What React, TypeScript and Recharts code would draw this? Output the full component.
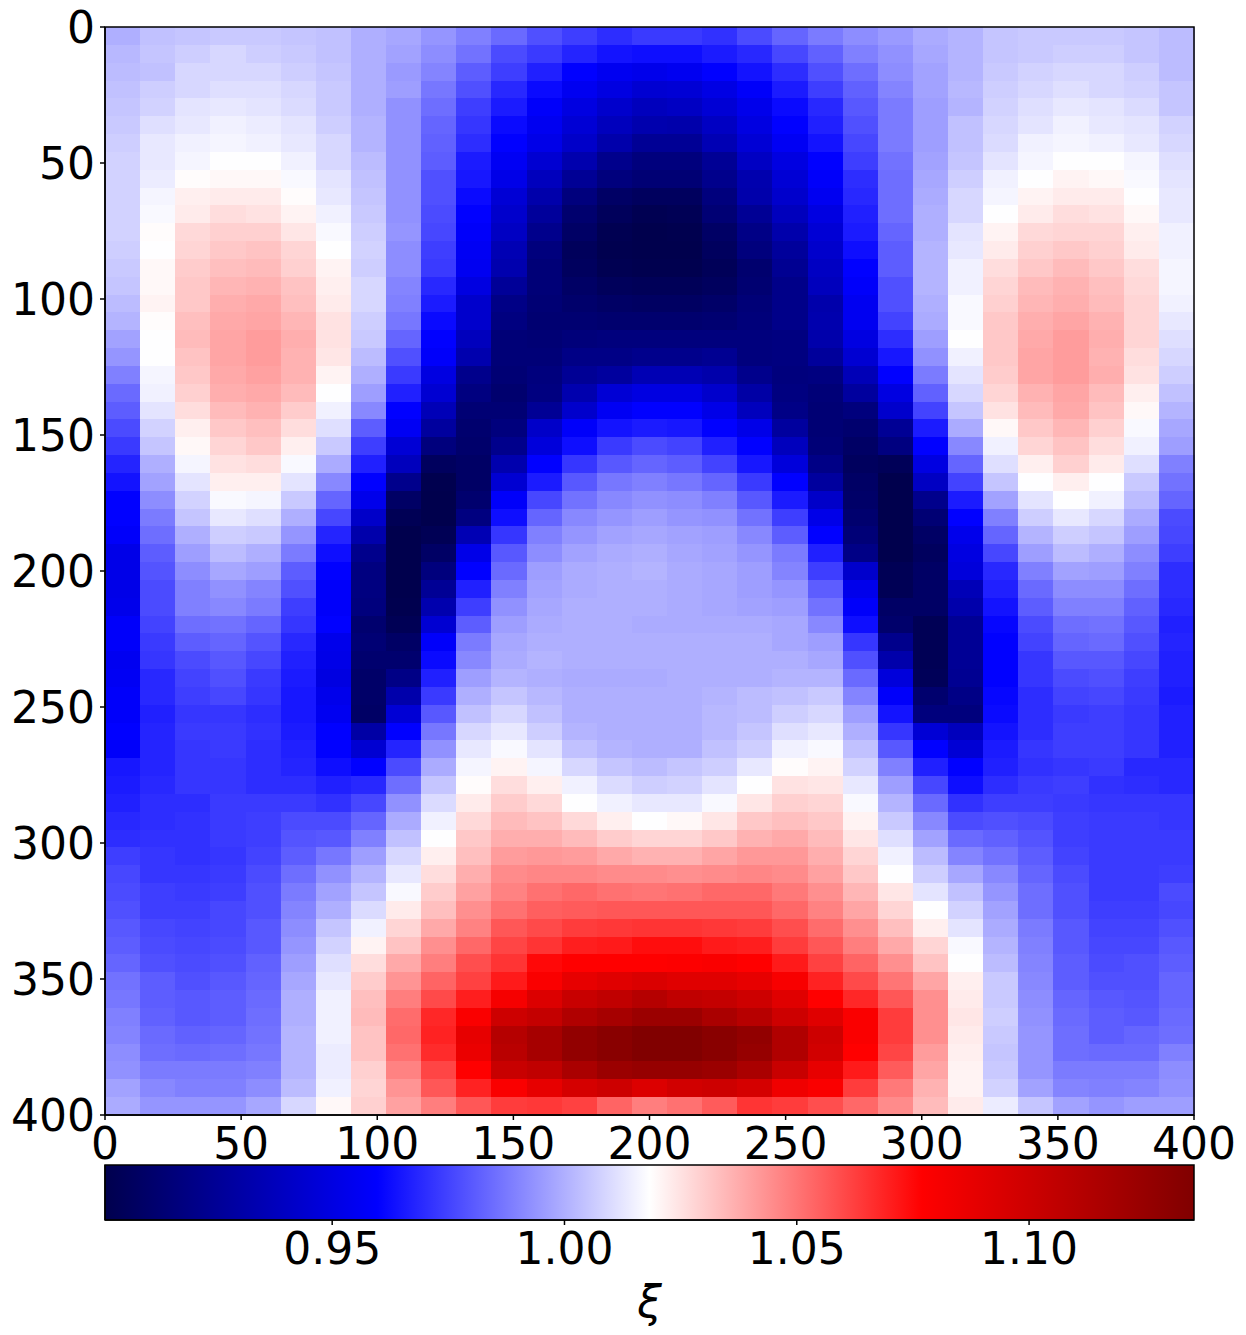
import React from 'react';
import { ScatterChart, Scatter, XAxis, YAxis, ReferenceArea, Label } from 'recharts';

// xi values in thousandths, one row per y step, top to bottom; 31 columns
const XI_MILLI: number[][] = [
[1000,1004,1005,1006,1006,1005,1004,1000,998,994,989,984,978,974,970,973,973,971,977,983,988,992,995,999,1001,1005,1006,1006,1006,1005,1003],
[1002,1005,1007,1009,1007,1006,1004,1000,997,992,986,977,973,968,964,963,963,966,969,976,982,989,993,998,1001,1005,1006,1007,1007,1005,1003],
[1003,1004,1009,1009,1009,1007,1005,1000,995,990,981,974,967,960,955,953,955,960,964,970,978,985,992,997,1001,1006,1008,1009,1009,1007,1003],
[1004,1007,1009,1011,1011,1009,1006,1000,996,987,978,969,962,955,950,945,946,951,958,966,974,982,990,997,1002,1007,1009,1011,1009,1008,1005],
[1005,1008,1012,1013,1012,1010,1006,1000,993,985,974,966,958,950,943,938,940,946,953,962,969,980,988,996,1001,1008,1011,1013,1012,1010,1005],
[1006,1011,1013,1015,1014,1012,1007,1001,993,983,972,962,955,946,938,933,932,940,950,960,967,978,988,996,1004,1009,1012,1015,1013,1012,1008],
[1007,1013,1015,1016,1015,1013,1009,1001,993,982,970,960,952,942,932,925,925,935,946,956,964,976,988,996,1004,1010,1015,1016,1015,1013,1009],
[1008,1013,1016,1018,1018,1015,1009,1003,993,981,966,956,945,933,922,917,917,925,940,950,960,974,986,997,1005,1012,1016,1018,1018,1016,1011],
[1008,1014,1019,1020,1020,1017,1012,1004,993,978,965,952,938,925,917,914,914,922,933,946,958,970,985,998,1007,1015,1018,1021,1020,1017,1012],
[1008,1016,1022,1023,1023,1019,1013,1005,993,978,962,946,932,917,909,907,907,917,932,943,955,969,985,999,1009,1016,1021,1023,1023,1018,1013],
[1008,1017,1023,1026,1025,1021,1015,1006,993,977,960,943,927,912,906,903,904,914,925,938,950,967,985,1000,1009,1018,1023,1026,1025,1020,1013],
[1008,1019,1027,1029,1029,1024,1017,1007,994,976,958,940,922,909,903,901,902,909,920,932,946,966,983,1000,1012,1021,1027,1028,1028,1022,1015],
[1007,1018,1028,1031,1032,1028,1018,1008,992,974,956,935,917,906,902,901,901,907,917,927,943,963,981,1001,1013,1023,1029,1031,1029,1023,1015],
[1006,1020,1030,1033,1034,1029,1021,1007,992,973,955,933,915,907,903,902,902,905,912,924,940,960,981,1001,1015,1026,1031,1034,1031,1026,1016],
[1005,1020,1031,1035,1036,1032,1022,1009,990,969,950,926,915,909,906,905,905,907,913,921,938,958,978,1001,1015,1028,1034,1036,1033,1027,1016],
[1003,1021,1031,1037,1038,1033,1023,1009,989,966,943,920,914,911,909,908,908,910,915,921,932,955,978,1000,1017,1029,1035,1037,1034,1028,1015],
[1001,1019,1033,1038,1039,1035,1025,1007,987,962,943,918,913,913,912,912,912,913,916,921,933,955,975,999,1017,1031,1037,1039,1036,1028,1013],
[997,1018,1034,1039,1041,1037,1025,1006,983,960,938,915,914,916,917,917,917,917,917,918,932,950,970,996,1018,1031,1038,1041,1037,1028,1011],
[994,1018,1032,1039,1041,1036,1024,1003,978,958,933,915,915,920,920,922,922,924,917,918,927,945,965,993,1015,1031,1039,1041,1036,1026,1009],
[989,1016,1031,1038,1040,1036,1021,1000,973,950,922,914,917,925,928,935,935,932,922,917,918,936,960,988,1012,1030,1039,1041,1037,1025,1007],
[984,1015,1029,1037,1038,1034,1018,996,967,945,918,912,918,933,946,950,950,943,930,918,915,928,950,982,1009,1028,1036,1039,1034,1022,1004],
[981,1012,1026,1034,1036,1030,1015,991,960,936,914,914,925,943,956,960,960,952,938,920,914,917,943,975,1005,1025,1034,1038,1032,1020,1001],
[977,1008,1022,1031,1033,1026,1011,981,956,928,912,917,942,958,964,966,965,960,952,928,914,912,925,966,999,1020,1031,1035,1029,1017,998],
[973,1005,1020,1028,1031,1022,1006,974,946,917,911,922,948,963,973,977,975,967,960,938,915,909,918,960,991,1015,1028,1032,1026,1015,996],
[968,1000,1016,1025,1026,1017,999,967,938,907,909,933,960,972,980,983,981,975,965,948,920,907,905,950,983,1011,1022,1029,1023,1011,989],
[964,997,1012,1022,1022,1012,991,960,922,902,909,945,966,980,987,989,987,983,973,960,928,909,901,940,975,1005,1018,1022,1018,1006,986],
[960,992,1008,1017,1016,1006,983,953,909,901,912,958,976,986,991,993,992,989,980,966,942,910,901,922,966,997,1012,1018,1015,1003,983],
[960,988,1005,1013,1011,1000,976,942,904,901,918,963,983,991,994,996,994,993,986,974,952,912,901,914,960,989,1007,1013,1009,999,977],
[958,985,1000,1007,1006,994,968,932,901,904,935,972,989,994,997,998,997,996,991,981,960,915,901,909,953,983,1001,1007,1005,996,976],
[952,981,996,1003,1000,988,963,922,901,909,952,980,992,997,999,1000,998,997,994,988,967,920,901,907,950,976,996,1003,1000,992,974],
[952,979,992,998,996,981,960,918,901,917,960,984,996,999,1000,1001,999,998,996,990,974,943,904,909,948,969,989,997,996,989,970],
[952,977,989,993,990,978,958,918,901,925,967,989,997,999,1000,1000,999,998,996,994,981,953,904,909,936,967,984,992,992,985,970],
[953,977,989,991,988,974,958,917,902,933,974,993,998,1000,1000,1000,999,998,997,996,986,958,909,909,932,964,981,989,989,982,969],
[958,975,985,986,983,972,960,912,904,945,981,996,999,1000,1000,999,999,999,999,998,991,963,911,904,925,961,977,985,986,980,967],
[958,973,981,983,979,969,953,914,909,958,988,998,1000,1000,1000,1000,1000,1000,1000,998,996,972,922,904,925,960,975,983,984,978,968],
[955,972,977,980,976,967,952,912,912,962,991,999,1001,1000,1000,1000,1000,1000,1000,1000,998,978,932,904,925,960,972,980,980,976,967],
[956,969,975,978,973,966,950,910,920,967,996,1001,1000,999,999,999,1000,1000,1000,1001,1001,984,948,905,924,960,972,977,978,974,967],
[958,969,974,976,972,965,953,910,932,973,1000,1005,1002,1000,1000,1000,1000,1001,1003,1004,1006,990,958,912,920,961,970,975,976,973,966],
[958,967,972,972,970,965,955,909,946,980,1004,1009,1004,1000,1000,1000,1000,1002,1003,1007,1009,996,964,917,917,962,970,973,974,972,967],
[960,968,973,973,971,966,960,930,960,987,1009,1013,1007,1001,1000,1000,1000,1002,1005,1011,1013,1000,972,946,938,964,970,974,974,972,967],
[958,968,972,973,970,967,960,945,968,993,1013,1017,1012,1004,1001,1000,1000,1004,1007,1015,1017,1004,980,960,946,966,972,974,974,972,967],
[965,968,972,972,970,968,963,960,977,999,1016,1021,1016,1009,1005,1003,1005,1007,1013,1019,1021,1008,989,967,960,967,971,972,973,969,969],
[966,969,972,972,970,970,967,969,985,1005,1019,1026,1022,1015,1010,1007,1008,1012,1018,1025,1024,1013,996,976,963,970,973,974,971,970,969],
[967,970,970,973,973,973,971,976,993,1010,1023,1030,1027,1018,1015,1013,1013,1017,1024,1029,1028,1017,1001,984,971,974,974,973,972,972,972],
[969,970,971,973,974,977,977,983,999,1015,1027,1034,1032,1027,1022,1018,1020,1024,1031,1033,1031,1021,1006,991,977,978,977,974,973,973,972],
[970,971,971,973,974,979,980,989,1004,1018,1031,1037,1037,1034,1030,1028,1028,1031,1036,1038,1034,1024,1011,997,984,982,979,974,973,973,973],
[974,972,971,972,975,981,987,996,1009,1022,1033,1041,1042,1041,1038,1036,1036,1039,1042,1042,1037,1028,1015,1003,990,986,981,975,973,973,973],
[976,972,972,973,977,985,993,1001,1013,1026,1037,1045,1046,1046,1045,1045,1044,1045,1046,1045,1040,1031,1018,1007,998,991,983,977,973,973,974],
[977,974,973,974,978,988,997,1005,1017,1030,1040,1047,1051,1053,1051,1050,1051,1053,1053,1049,1044,1035,1024,1012,1004,994,985,978,973,973,977],
[978,974,974,976,978,990,1000,1010,1023,1033,1044,1051,1055,1056,1057,1057,1057,1057,1057,1053,1047,1039,1028,1018,1008,997,985,978,974,974,976],
[980,976,975,976,980,992,1005,1015,1028,1038,1047,1057,1060,1063,1064,1065,1065,1064,1063,1059,1052,1044,1033,1022,1012,999,988,980,975,975,978],
[981,977,976,977,980,994,1008,1021,1032,1044,1053,1061,1065,1070,1071,1074,1074,1071,1070,1063,1057,1048,1038,1028,1017,1001,989,980,976,976,980],
[983,978,977,978,982,996,1011,1026,1038,1048,1059,1065,1075,1077,1077,1077,1078,1079,1077,1071,1062,1054,1044,1032,1018,1003,990,981,977,978,981],
[986,981,978,980,983,998,1013,1030,1043,1054,1062,1071,1079,1088,1091,1094,1091,1091,1088,1080,1069,1060,1050,1039,1022,1006,991,981,978,978,983],
[987,981,980,981,984,1000,1015,1033,1048,1060,1070,1081,1093,1102,1106,1111,1106,1104,1100,1091,1077,1068,1057,1044,1023,1006,992,983,980,979,983],
[989,982,980,981,985,1000,1015,1034,1052,1068,1079,1100,1104,1113,1118,1123,1123,1116,1110,1100,1091,1079,1063,1044,1024,1007,993,984,981,980,984],
[990,984,982,983,986,1001,1015,1032,1053,1069,1088,1111,1118,1127,1131,1135,1135,1131,1127,1113,1100,1079,1063,1044,1023,1006,994,985,981,983,985],
[992,985,984,985,987,1001,1014,1032,1051,1067,1086,1109,1118,1127,1131,1135,1135,1131,1125,1113,1098,1077,1061,1041,1022,1005,994,985,984,984,989],
[993,988,988,988,989,1001,1014,1029,1047,1061,1077,1102,1106,1116,1123,1125,1125,1123,1116,1102,1088,1071,1056,1039,1021,1006,994,988,988,988,992],
[997,991,989,989,992,1003,1015,1028,1043,1057,1069,1079,1088,1096,1100,1093,1098,1100,1096,1084,1079,1063,1049,1036,1021,1008,997,990,989,990,993],
[999,994,994,994,998,1009,1020,1029,1040,1048,1057,1063,1064,1062,1054,1048,1051,1056,1065,1063,1059,1053,1045,1034,1023,1014,1005,997,994,996,996],
];

const AXIS_TICKS = [0, 50, 100, 150, 200, 250, 300, 350, 400];
const COLORBAR_TICKS = [0.95, 1.0, 1.05, 1.1];
const XI_MIN = 0.9011;
const XI_MAX = 1.1355;
const SEISMIC_STOPS: [number, number, number, number][] = [
  [0, 0, 0, 76.5],
  [0.25, 0, 0, 255],
  [0.5, 255, 255, 255],
  [0.75, 255, 0, 0],
  [1, 127.5, 0, 0],
];

const EXTENT = 400;
const ROWS = XI_MILLI.length;
const COLS = XI_MILLI[0].length;
const LEFT = 105;
const TOP = 27;
const PLOT_W = 1089;
const PLOT_H = 1088;
const RIGHT = 1246 - LEFT - PLOT_W;
const MAIN_CHART_H = 1185;
const BAR_TOP = 1160;
const FONT = 'DejaVu Sans';

function seismic(t: number): string {
  const u = Math.max(0, Math.min(1, t));
  for (let i = 1; i < SEISMIC_STOPS.length; i++) {
    const a = SEISMIC_STOPS[i - 1];
    const b = SEISMIC_STOPS[i];
    if (u <= b[0]) {
      const f = (u - a[0]) / (b[0] - a[0]);
      const c = [1, 2, 3].map((k) => Math.round(a[k] + (b[k] - a[k]) * f));
      return `rgb(${c[0]},${c[1]},${c[2]})`;
    }
  }
  return 'rgb(128,0,0)';
}

const cells = XI_MILLI.flatMap((row, r) =>
  row.map((v, c) => ({
    x: ((c + 0.5) * EXTENT) / COLS,
    y: ((r + 0.5) * EXTENT) / ROWS,
    xi: v / 1000,
  }))
);
const frameCorners = [{ x: 0, y: 0 }, { x: EXTENT, y: EXTENT }];
const barCorners = [{ x: XI_MIN, y: 0 }, { x: XI_MAX, y: 1 }];

const cellW = PLOT_W / COLS;
const cellH = PLOT_H / ROWS;

function Cell(props: any) {
  const { cx, cy, payload } = props;
  return (
    <rect
      x={cx - cellW / 2}
      y={cy - cellH / 2}
      width={cellW + 0.6}
      height={cellH + 0.6}
      fill={seismic((payload.xi - XI_MIN) / (XI_MAX - XI_MIN))}
      shapeRendering="crispEdges"
    />
  );
}
const Nothing = () => null;

const tickStyle = { fill: '#000', fontSize: 44, fontFamily: FONT };
const axisLine = { stroke: '#000', strokeWidth: 1.5 };
const tickLine = { stroke: '#000', strokeWidth: 1.5 };
const layer = (top: number): React.CSSProperties => ({ position: 'absolute', left: 0, top });

export default function App() {
  return (
    <div style={{ position: 'absolute', left: 0, top: 0, width: 1246, height: 1335, background: '#fff', overflow: 'hidden' }}>
      {/* heatmap cells */}
      <div style={layer(0)}>
        <ScatterChart width={1246} height={MAIN_CHART_H} margin={{ top: TOP, right: RIGHT, bottom: MAIN_CHART_H - TOP - PLOT_H, left: LEFT }}>
          <XAxis hide type="number" dataKey="x" domain={[0, EXTENT]} />
          <YAxis hide type="number" dataKey="y" reversed domain={[0, EXTENT]} />
          <Scatter data={cells} shape={Cell} isAnimationActive={false} />
        </ScatterChart>
      </div>
      {/* heatmap axes and frame, above the cells */}
      <div style={layer(0)}>
        <ScatterChart width={1246} height={MAIN_CHART_H} margin={{ top: TOP, right: RIGHT, bottom: 0, left: 0 }}>
          <XAxis
            type="number"
            dataKey="x"
            domain={[0, EXTENT]}
            ticks={AXIS_TICKS}
            interval={0}
            height={MAIN_CHART_H - TOP - PLOT_H}
            orientation="bottom"
            tick={tickStyle}
            axisLine={axisLine}
            tickLine={tickLine}
            tickSize={5}
            tickMargin={8}
          />
          <YAxis
            type="number"
            dataKey="y"
            reversed
            domain={[0, EXTENT]}
            ticks={AXIS_TICKS}
            interval={0}
            width={LEFT}
            orientation="left"
            tick={tickStyle}
            axisLine={axisLine}
            tickLine={tickLine}
            tickSize={5}
            tickMargin={5}
          />
          <ReferenceArea x1={0} x2={EXTENT} y1={0} y2={EXTENT} fill="none" stroke="#000" strokeWidth={1.5} ifOverflow="visible" />
          <Scatter data={frameCorners} shape={Nothing} isAnimationActive={false} />
        </ScatterChart>
      </div>
      {/* colorbar fill */}
      <div style={layer(BAR_TOP)}>
        <ScatterChart width={1246} height={175} margin={{ top: 5, right: RIGHT, bottom: 115, left: LEFT }}>
          <defs>
            <linearGradient id="seismicBar" x1="0" y1="0" x2="1" y2="0">
              {SEISMIC_STOPS.map((s) => (
                <stop key={s[0]} offset={s[0]} stopColor={`rgb(${s[1]},${s[2]},${s[3]})`} />
              ))}
            </linearGradient>
          </defs>
          <XAxis hide type="number" dataKey="x" domain={[XI_MIN, XI_MAX]} />
          <YAxis hide type="number" dataKey="y" domain={[0, 1]} />
          <ReferenceArea x1={XI_MIN} x2={XI_MAX} y1={0} y2={1} fill="url(#seismicBar)" fillOpacity={1} stroke="none" ifOverflow="visible" />
          <Scatter data={barCorners} shape={Nothing} isAnimationActive={false} />
        </ScatterChart>
      </div>
      {/* colorbar axes and frame */}
      <div style={layer(BAR_TOP)}>
        <ScatterChart width={1246} height={175} margin={{ top: 5, right: RIGHT, bottom: 0, left: 0 }}>
          <XAxis
            type="number"
            dataKey="x"
            domain={[XI_MIN, XI_MAX]}
            ticks={COLORBAR_TICKS}
            interval={0}
            height={115}
            orientation="bottom"
            tick={tickStyle}
            tickFormatter={(v: number) => v.toFixed(2)}
            axisLine={axisLine}
            tickLine={tickLine}
            tickSize={5}
            tickMargin={8}
          >
            <Label value="ξ" position="insideBottom" offset={18} style={{ fill: '#000', fontSize: 44, fontFamily: FONT, fontStyle: 'italic' }} />
          </XAxis>
          <YAxis type="number" dataKey="y" domain={[0, 1]} width={LEFT} orientation="left" tick={false} tickLine={false} axisLine={axisLine} />
          <ReferenceArea x1={XI_MIN} x2={XI_MAX} y1={0} y2={1} fill="none" stroke="#000" strokeWidth={1.5} ifOverflow="visible" />
          <Scatter data={barCorners} shape={Nothing} isAnimationActive={false} />
        </ScatterChart>
      </div>
    </div>
  );
}
